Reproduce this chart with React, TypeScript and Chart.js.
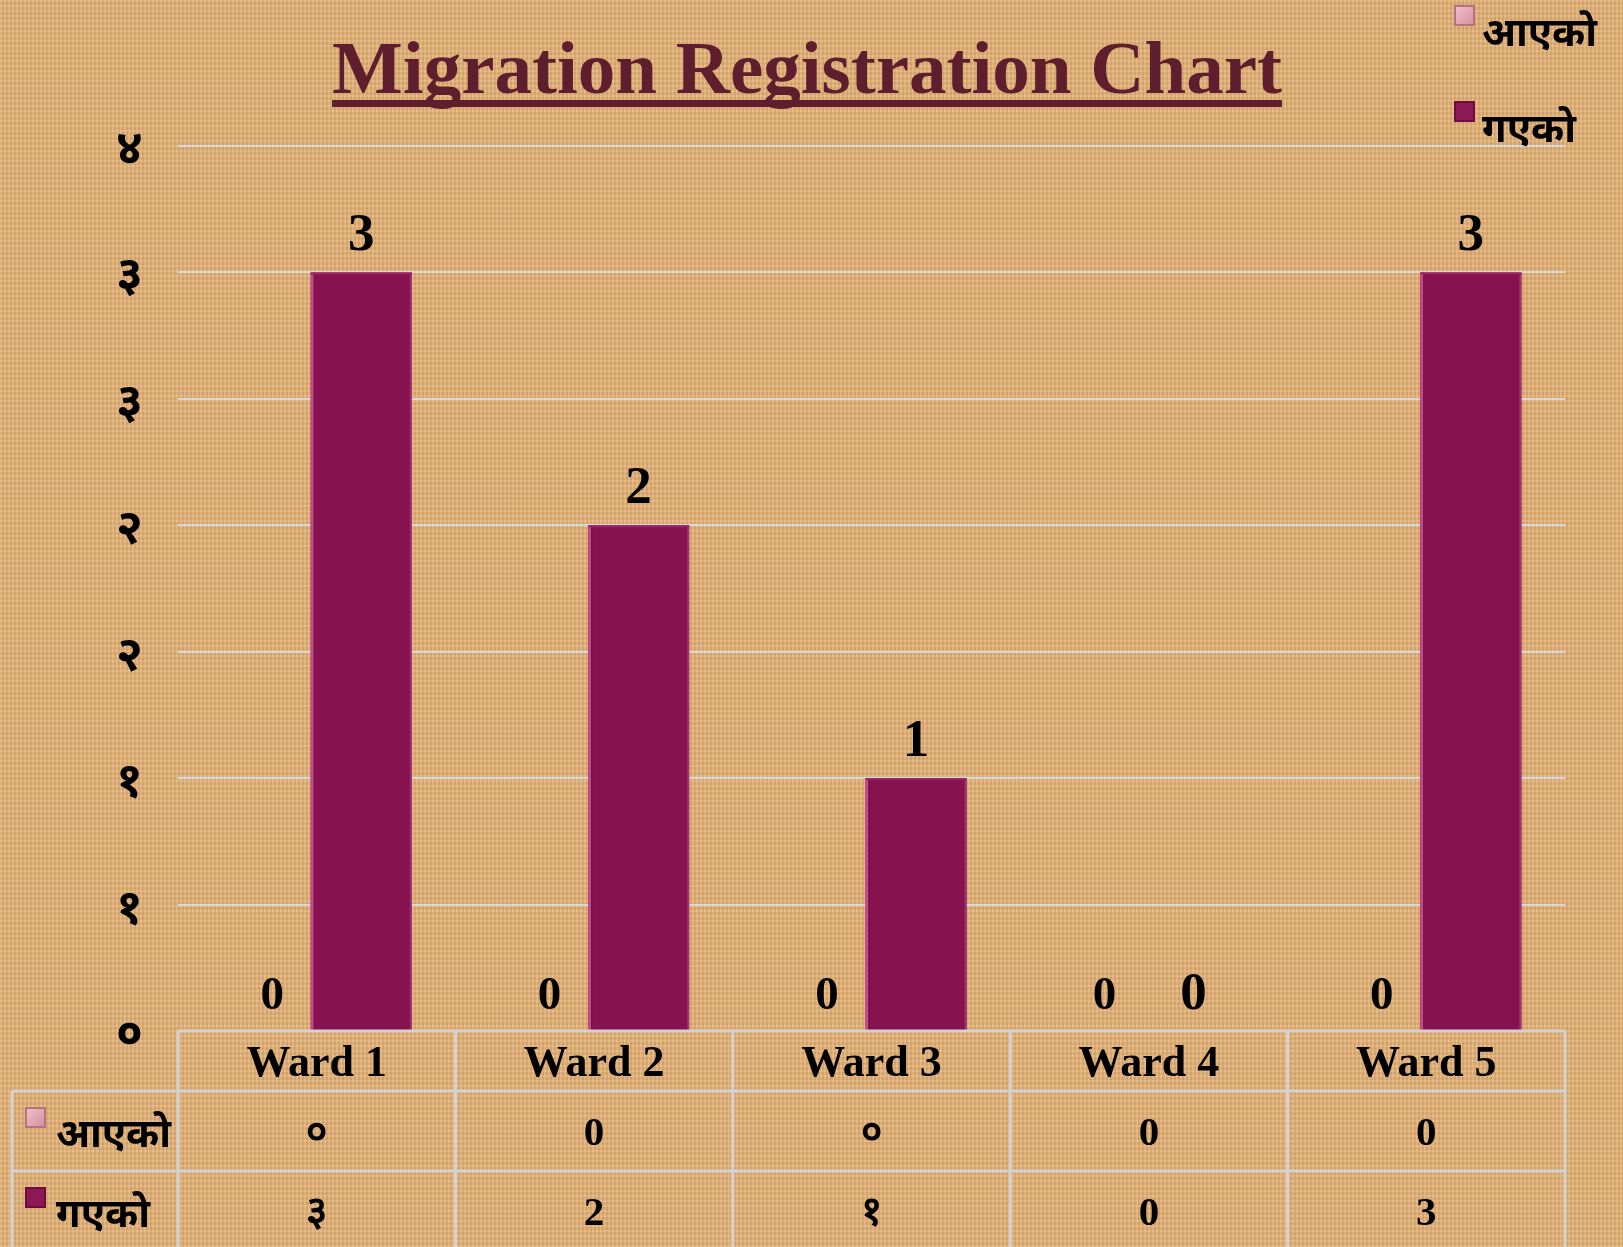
import React, { useEffect, useRef } from "react";
import { Chart, registerables } from "chart.js";

Chart.register(...registerables);

const categories = ["Ward 1", "Ward 2", "Ward 3", "Ward 4", "Ward 5"];
const seriesNames = ["आएको", "गएको"];
const arrivedValues = [0, 0, 0, 0, 0];
const departedValues = [3, 2, 1, 0, 3];
const yTickLabels = ["०", "१", "१", "२", "२", "३", "३", "४"];
const tableArrived = ["०", "0", "०", "0", "0"];
const tableDeparted = ["३", "2", "१", "0", "3"];
const titleText = "Migration Registration Chart";

const W = 1623;
const H = 1247;
const SERIF = '"Liberation Serif", "Times New Roman", serif';
const DEVA = '"Noto Sans Devanagari", "Noto Sans", "Lohit Devanagari", sans-serif';
const colors = ["#d996a6", "#86124f"];

const drawSquare = (ctx: CanvasRenderingContext2D, x: number, y: number, s: number, i: number) => {
  ctx.save();
  if (i === 0) {
    ctx.fillStyle = "#b9707f";
    ctx.fillRect(x, y, s, s);
    const g = ctx.createLinearGradient(x, y, x + s, y + s);
    g.addColorStop(0, "#f2c3cd");
    g.addColorStop(1, "#d38d9c");
    ctx.fillStyle = g;
    ctx.fillRect(x + 2, y + 2, s - 4, s - 4);
  } else {
    ctx.fillStyle = "#6e0c40";
    ctx.fillRect(x, y, s, s);
    ctx.fillStyle = "#8c1856";
    ctx.fillRect(x + 2, y + 2, s - 4, s - 4);
  }
  ctx.restore();
};

const decorPlugin = {
  id: "decor",
  afterDatasetsDraw(chart: any) {
    const ctx: CanvasRenderingContext2D = chart.ctx;
    const yScale = chart.scales.y;
    const base = yScale.getPixelForValue(0);
    chart.data.datasets.forEach((ds: any, di: number) => {
      const meta = chart.getDatasetMeta(di);
      meta.data.forEach((el: any, i: number) => {
        const v = ds.data[i];
        if (v > 0) {
          const l = el.x - el.width / 2;
          ctx.save();
          ctx.fillStyle = "#c24a8e";
          ctx.fillRect(l, el.y, 3, base - el.y);
          ctx.fillStyle = "#741045";
          ctx.fillRect(l + 3, el.y, 1, base - el.y);
          ctx.fillStyle = "#a33070";
          ctx.fillRect(l + el.width - 2, el.y, 2, base - el.y);
          ctx.fillStyle = "#9a2464";
          ctx.fillRect(l, el.y, el.width, 2);
          ctx.restore();
        }
        ctx.save();
        ctx.fillStyle = "#000";
        ctx.textAlign = "center";
        ctx.textBaseline = "alphabetic";
        ctx.font = `bold ${di === 0 ? 47 : 53}px ${SERIF}`;
        ctx.fillText(String(v), el.x, el.y - 22);
        ctx.restore();
      });
    });
  },
  afterDraw(chart: any) {
    const ctx: CanvasRenderingContext2D = chart.ctx;
    const xs = chart.scales.x;
    const area = chart.chartArea;

    // Title
    ctx.save();
    ctx.fillStyle = "#5f1e2d";
    ctx.font = `bold 75px ${SERIF}`;
    ctx.textAlign = "center";
    ctx.textBaseline = "alphabetic";
    ctx.fillText(titleText, 807, 93);
    const tw = ctx.measureText(titleText).width;
    ctx.fillRect(807 - tw / 2, 100, tw, 7);
    ctx.restore();

    // Legend
    ctx.save();
    ctx.fillStyle = "#000";
    ctx.font = `bold 40px ${DEVA}`;
    ctx.textAlign = "left";
    seriesNames.forEach((n, i) => {
      const sy = i === 0 ? 5 : 101;
      drawSquare(ctx, 1454, sy, 21, i);
      ctx.fillText(n, 1482, i === 0 ? 46 : 142);
    });
    ctx.restore();

    // Data table
    const half = (xs.getPixelForValue(1) - xs.getPixelForValue(0)) / 2;
    const top = area.bottom;
    const r1 = top + 60;
    const r2 = r1 + 80;
    const r3 = r2 + 80;
    const leftX = 12;
    ctx.save();
    ctx.strokeStyle = "#d3d3d3";
    ctx.lineWidth = 3;
    ctx.beginPath();
    ctx.moveTo(area.left, top);
    ctx.lineTo(area.right, top);
    ctx.moveTo(leftX, r1);
    ctx.lineTo(area.right, r1);
    ctx.moveTo(leftX, r2);
    ctx.lineTo(area.right, r2);
    ctx.moveTo(leftX, r3);
    ctx.lineTo(area.right, r3);
    ctx.moveTo(leftX, r1);
    ctx.lineTo(leftX, r3);
    for (let i = 0; i <= categories.length; i++) {
      const x = i < categories.length ? xs.getPixelForValue(i) - half : xs.getPixelForValue(i - 1) + half;
      ctx.moveTo(x, top);
      ctx.lineTo(x, r3);
    }
    ctx.stroke();

    ctx.fillStyle = "#000";
    ctx.textAlign = "center";
    categories.forEach((c, i) => {
      const cx = xs.getPixelForValue(i);
      ctx.font = `bold 44px ${SERIF}`;
      ctx.fillText(c, cx, top + 45);
      ctx.font = `bold 41px ${SERIF}`;
      ctx.fillText(tableArrived[i], cx, r1 + 54);
      ctx.fillText(tableDeparted[i], cx, r2 + 54);
    });

    ctx.textAlign = "left";
    ctx.font = `bold 40px ${DEVA}`;
    seriesNames.forEach((n, i) => {
      const ry = i === 0 ? r1 : r2;
      drawSquare(ctx, 25, ry + 16, 21, i);
      ctx.fillStyle = "#000";
      ctx.fillText(n, 56, ry + 56);
    });
    ctx.restore();
  },
};

export default function App() {
  const ref = useRef<HTMLCanvasElement | null>(null);
  useEffect(() => {
    if (!ref.current) return;
    const chart = new Chart(ref.current, {
      type: "bar",
      data: {
        labels: categories,
        datasets: [
          { label: seriesNames[0], data: arrivedValues, backgroundColor: colors[0] },
          { label: seriesNames[1], data: departedValues, backgroundColor: colors[1] },
        ],
      },
      options: {
        responsive: false,
        animation: false,
        devicePixelRatio: 1,
        layout: { padding: { left: 0, right: 58, top: 146, bottom: 216 } },
        datasets: { bar: { categoryPercentage: 0.642, barPercentage: 1.135 } },
        plugins: { legend: { display: false }, title: { display: false }, tooltip: { enabled: false } },
        scales: {
          x: { display: false },
          y: {
            min: 0,
            max: 3.5,
            border: { display: false },
            grid: { color: "#d8d8d8", lineWidth: 2, drawTicks: false },
            afterFit: (s: any) => {
              s.width = 178;
            },
            ticks: {
              stepSize: 0.5,
              padding: 35,
              crossAlign: "center",
              labelOffset: 9,
              color: "#000",
              font: { family: DEVA, size: 48, weight: "bold" },
              callback: (_v: any, i: number) => yTickLabels[i],
            },
          },
        },
      },
      plugins: [decorPlugin],
    } as any);
    return () => chart.destroy();
  }, []);
  return (
    <div style={{ position: "fixed", left: 0, top: 0, width: W, height: H }}>
      <canvas
        ref={ref}
        width={W}
        height={H}
        style={{
          width: W,
          height: H,
          display: "block",
          backgroundColor: "#ddac74",
          backgroundImage:
            "repeating-linear-gradient(90deg, rgba(255,232,190,0.16) 0px, rgba(255,232,190,0.16) 2px, rgba(130,85,35,0.07) 2px, rgba(130,85,35,0.07) 4px), repeating-linear-gradient(0deg, rgba(255,232,190,0.14) 0px, rgba(255,232,190,0.14) 2px, rgba(130,85,35,0.06) 2px, rgba(130,85,35,0.06) 5px)",
        }}
      />
    </div>
  );
}
